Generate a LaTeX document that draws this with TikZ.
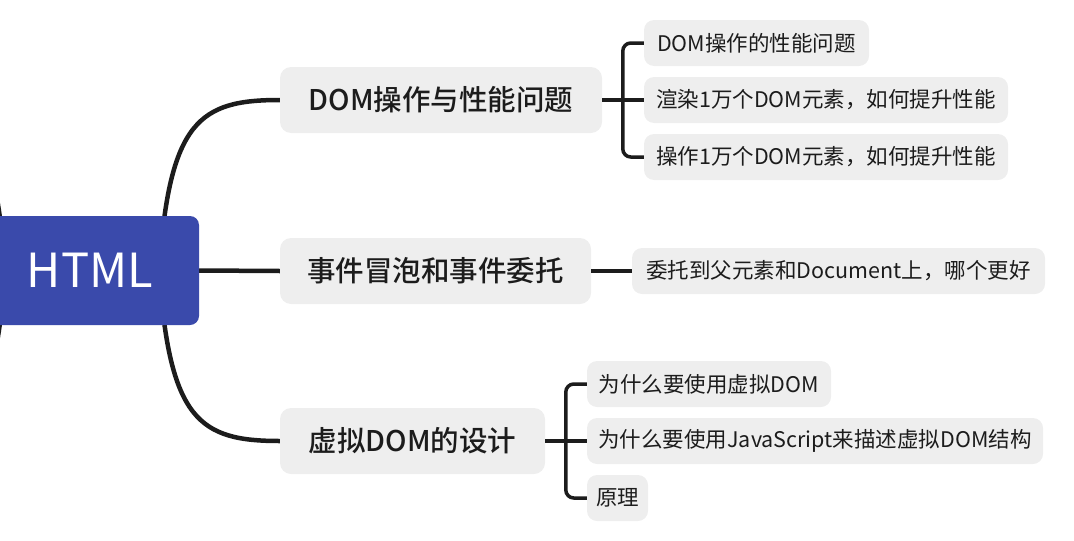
\documentclass[tikz,border=0pt]{standalone}
\usepackage{fontspec}
\setmainfont{Noto Sans CJK SC}
\newfontfamily\topicfont{Noto Sans CJK SC}[UprightFont=* Medium]
\usetikzlibrary{backgrounds}
\definecolor{rootblue}{HTML}{3A4AAB}
\definecolor{boxgray}{HTML}{EEEEEE}
\definecolor{ink}{HTML}{1C1C1C}

\begin{document}
\begin{tikzpicture}[x=1pt,y=-1pt,
    rootbox/.style={fill=rootblue,text=white,rounded corners=9pt,minimum width=218pt,minimum height=109pt,font=\fontsize{47}{50}\selectfont},
    topicbox/.style={fill=boxgray,text=ink,rounded corners=11pt,minimum height=66pt,inner sep=0pt,font=\topicfont\fontsize{28.5}{32}\selectfont},
    leafbox/.style={fill=boxgray,text=ink,rounded corners=10pt,minimum height=46pt,inner sep=0pt,font=\fontsize{21.5}{25}\selectfont},
    trunk/.style={line width=4.5pt,draw=ink},
    twig/.style={line width=3.5pt,draw=ink,rounded corners=8pt}]
 			\useasboundingbox (0,0) rectangle (1074,541);
 			\node[rootbox] (root) at (90,270.5) {HTML};
 			\node[topicbox,minimum width=322pt] (dom) at (441,100) {DOM操作与性能问题};
 			\node[topicbox,minimum width=311pt] (evt) at (435.5,271) {事件冒泡和事件委托};
 			\node[topicbox,minimum width=265pt] (vdom) at (412.5,441) {虚拟DOM的设计};
 			\node[leafbox,minimum width=225pt] (dom1) at (756.5,43) {DOM操作的性能问题};
 			\node[leafbox,minimum width=364pt] (dom2) at (826,100) {渲染1万个DOM元素，如何提升性能};
 			\node[leafbox,minimum width=364pt] (dom3) at (826,157) {操作1万个DOM元素，如何提升性能};
 			\node[leafbox,minimum width=413pt] (evt1) at (838.5,271) {委托到父元素和Document上，哪个更好};
 			\node[leafbox,minimum width=244pt] (vdom1) at (709,384) {为什么要使用虚拟DOM};
 			\node[leafbox,minimum width=456pt] (vdom2) at (815,441) {为什么要使用JavaScript来描述虚拟DOM结构};
 			\node[leafbox,minimum width=61pt] (vdom3) at (617.5,498) {原理};
 			\begin{scope}[on background layer]
 			% main branches, the left ones run off the page
 			\draw[trunk] ([xshift=-40pt]root.east) .. controls +(10,-150) and +(-80,0) .. (dom.west);
 			\draw[trunk] ([xshift=-40pt]root.east) .. controls +(10,150) and +(-80,0) .. (vdom.west);
 			\draw[trunk] (root.east) -- (evt.west);
 			\draw[trunk] ([xshift=-85pt]root.center) .. controls +(-10,-150) and +(80,0) .. ++(-120,-170);
 			\draw[trunk] ([xshift=-85pt]root.center) .. controls +(-10,150) and +(80,0) .. ++(-120,170);
 			\end{scope}
 			\draw[twig] (dom.east) -- (dom2.west);
 			\draw[twig] (dom1.west) -- ++(-21,0) |- (dom3.west);
 			\draw[twig] (evt.east) -- (evt1.west);
 			\draw[twig] (vdom.east) -- (vdom2.west);
 			\draw[twig] (vdom1.west) -- ++(-21,0) |- (vdom3.west);
 		\end{tikzpicture}
\end{document}
